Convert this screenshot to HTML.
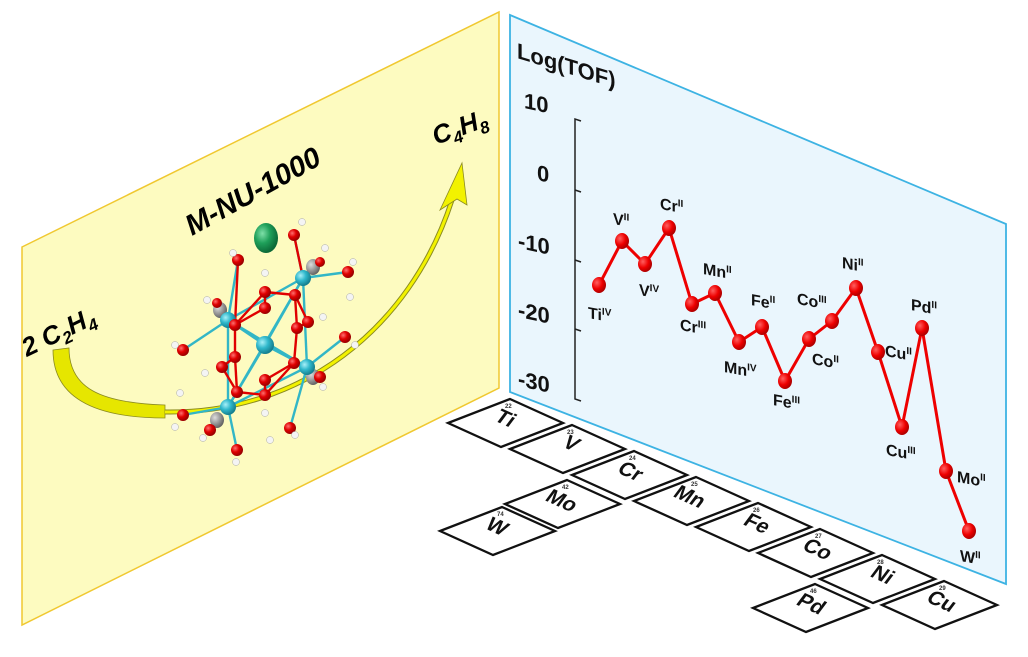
<!DOCTYPE html>
<html><head><meta charset="utf-8"><style>
html,body{margin:0;padding:0;background:#fff;}
svg{display:block;}
text{font-family:"Liberation Sans",sans-serif;font-weight:bold;}
</style></head><body>
<svg width="1028" height="657" viewBox="0 0 1028 657" xmlns="http://www.w3.org/2000/svg">
<defs>
<radialGradient id="rO" cx="35%" cy="35%" r="65%"><stop offset="0" stop-color="#ff7070"/><stop offset="0.5" stop-color="#e00000"/><stop offset="1" stop-color="#900"/></radialGradient>
<radialGradient id="cZ" cx="35%" cy="35%" r="65%"><stop offset="0" stop-color="#a8f0f8"/><stop offset="0.5" stop-color="#30b8cc"/><stop offset="1" stop-color="#16808f"/></radialGradient>
<radialGradient id="gC" cx="35%" cy="35%" r="65%"><stop offset="0" stop-color="#ddd"/><stop offset="1" stop-color="#666"/></radialGradient>
<radialGradient id="gr" cx="35%" cy="35%" r="65%"><stop offset="0" stop-color="#7ee0a8"/><stop offset="0.5" stop-color="#1fa05a"/><stop offset="1" stop-color="#0c6a38"/></radialGradient>
<radialGradient id="rd" cx="35%" cy="35%" r="65%"><stop offset="0" stop-color="#ff6060"/><stop offset="0.6" stop-color="#ee0000"/><stop offset="1" stop-color="#b00000"/></radialGradient>
</defs>

<polygon points="22,247 499,12 499,388 22,625" fill="#fdfbc0" stroke="#f0c830" stroke-width="1.5"/>
<polygon points="510,15 1006,224 1006,584 510,392" fill="#eaf6fd" stroke="#3db3e3" stroke-width="1.8"/>

<path d="M53,350 L69,348 C69,388 100,403 165,405 L165,418 C95,418 53,398 53,350 Z" fill="#e6e600" stroke="#8a8a20" stroke-width="0.8"/>
<path d="M165,412 C300,414 410,330 452,200" fill="none" stroke="#8a8a20" stroke-width="5"/>
<path d="M165,412 C300,414 410,330 452,200" fill="none" stroke="#f2f200" stroke-width="3"/>
<polygon points="462,163 467,205 457,199 440,210" fill="#f2f200" stroke="#8a8a20" stroke-width="0.8"/>

<g stroke-width="2.4">
<g stroke="#32b6c6">
<line x1="228" y1="320" x2="303" y2="278"/><line x1="228" y1="320" x2="265" y2="345"/><line x1="228" y1="320" x2="228" y2="407"/>
<line x1="303" y1="278" x2="265" y2="345"/><line x1="303" y1="278" x2="307" y2="367"/><line x1="265" y1="345" x2="307" y2="367"/>
<line x1="265" y1="345" x2="228" y2="407"/><line x1="307" y1="367" x2="228" y2="407"/><line x1="228" y1="320" x2="307" y2="367"/>
<line x1="303" y1="278" x2="228" y2="407"/><line x1="303" y1="278" x2="348" y2="272"/><line x1="228" y1="320" x2="183" y2="350"/>
<line x1="307" y1="367" x2="345" y2="337"/><line x1="228" y1="407" x2="183" y2="415"/><line x1="228" y1="407" x2="237" y2="450"/>
<line x1="307" y1="367" x2="290" y2="428"/><line x1="303" y1="278" x2="294" y2="235"/><line x1="228" y1="320" x2="238" y2="260"/>
</g>
<g stroke="#e00000">
<line x1="265" y1="292" x2="295" y2="295"/><line x1="265" y1="308" x2="235" y2="325"/><line x1="235" y1="357" x2="222" y2="367"/>
<line x1="297" y1="328" x2="308" y2="322"/><line x1="294" y1="363" x2="265" y2="380"/><line x1="265" y1="395" x2="237" y2="392"/>
<line x1="265" y1="292" x2="235" y2="325"/><line x1="295" y1="295" x2="308" y2="322"/><line x1="235" y1="357" x2="237" y2="392"/>
<line x1="294" y1="363" x2="265" y2="395"/><line x1="238" y1="260" x2="235" y2="325"/><line x1="294" y1="235" x2="303" y2="278"/>
<line x1="222" y1="367" x2="237" y2="392"/><line x1="297" y1="328" x2="294" y2="363"/><line x1="265" y1="292" x2="265" y2="308"/>
<line x1="265" y1="380" x2="265" y2="395"/><line x1="235" y1="325" x2="235" y2="357"/><line x1="297" y1="328" x2="295" y2="295"/>
</g>
</g>
<ellipse cx="266" cy="238" rx="12" ry="15" fill="url(#gr)"/>
<g fill="url(#gC)">
<ellipse cx="220" cy="310" rx="7" ry="8"/><ellipse cx="313" cy="267" rx="7" ry="8"/><ellipse cx="313" cy="377" rx="7" ry="8"/><ellipse cx="217" cy="420" rx="7" ry="8"/>
</g>
<g fill="url(#cZ)">
<circle cx="228" cy="320" r="8"/><circle cx="303" cy="278" r="8"/><circle cx="265" cy="345" r="9"/><circle cx="307" cy="367" r="8"/><circle cx="228" cy="407" r="8"/>
</g>
<g fill="url(#rO)">
<circle cx="238" cy="260" r="6"/><circle cx="294" cy="235" r="6"/><circle cx="348" cy="272" r="6"/><circle cx="265" cy="292" r="6"/><circle cx="265" cy="308" r="6"/>
<circle cx="295" cy="295" r="6"/><circle cx="235" cy="325" r="6"/><circle cx="183" cy="350" r="6"/><circle cx="235" cy="357" r="6"/><circle cx="222" cy="367" r="6"/>
<circle cx="297" cy="328" r="6"/><circle cx="308" cy="322" r="6"/><circle cx="294" cy="363" r="6"/><circle cx="345" cy="337" r="6"/><circle cx="265" cy="380" r="6"/>
<circle cx="265" cy="395" r="6"/><circle cx="237" cy="392" r="6"/><circle cx="183" cy="415" r="6"/><circle cx="237" cy="450" r="6"/><circle cx="290" cy="428" r="6"/>
<circle cx="210" cy="430" r="6"/><circle cx="320" cy="377" r="6"/><circle cx="217" cy="303" r="5"/><circle cx="320" cy="262" r="5"/>
</g>
<g fill="#f4f4f4" stroke="#aaa" stroke-width="0.5">
<circle cx="233" cy="253" r="3.5"/><circle cx="302" cy="222" r="3.5"/><circle cx="265" cy="273" r="3.5"/><circle cx="325" cy="248" r="3.5"/><circle cx="353" cy="262" r="3.5"/>
<circle cx="350" cy="297" r="3.5"/><circle cx="323" cy="317" r="3.5"/><circle cx="175" cy="345" r="3.5"/><circle cx="205" cy="373" r="3.5"/><circle cx="355" cy="345" r="3.5"/>
<circle cx="180" cy="393" r="3.5"/><circle cx="175" cy="427" r="3.5"/><circle cx="265" cy="413" r="3.5"/><circle cx="203" cy="438" r="3.5"/><circle cx="270" cy="440" r="3.5"/>
<circle cx="295" cy="435" r="3.5"/><circle cx="323" cy="387" r="3.5"/><circle cx="207" cy="300" r="3.5"/><circle cx="236" cy="462" r="3.5"/>
</g>

<text transform="translate(192,236) rotate(-29)" font-size="29" font-style="italic" fill="#000">M-NU-1000</text>
<text transform="translate(27,357) rotate(-26)" font-size="26" font-style="italic" fill="#000">2 C<tspan font-size="17" dy="6">2</tspan><tspan dy="-6">H</tspan><tspan font-size="17" dy="6">4</tspan></text>
<text transform="translate(436,145) rotate(-20)" font-size="26" font-style="italic" fill="#000">C<tspan font-size="17" dy="6">4</tspan><tspan dy="-6">H</tspan><tspan font-size="17" dy="6">8</tspan></text>

<g stroke="#222" stroke-width="1.5" fill="none">
<path d="M581,121 L575,119 L575,399 L581,401"/>
<line x1="575" y1="190" x2="581" y2="192"/><line x1="575" y1="260" x2="581" y2="262"/><line x1="575" y1="329" x2="581" y2="331"/>
</g>
<g font-size="22" fill="#111">
<text transform="translate(517,58) skewY(17)">Log(TOF)</text>
<text transform="translate(524,108) skewY(12)">10</text>
<text transform="translate(537,180) skewY(12)">0</text>
<text transform="translate(518,248) skewY(12)">-10</text>
<text transform="translate(518,317) skewY(12)">-20</text>
<text transform="translate(518,386) skewY(12)">-30</text>
</g>

<polyline fill="none" stroke="#ee0000" stroke-width="3" stroke-linejoin="round" points="599,285 622,241 645,264 669,228 692,304 715,293 739,342 762,327 785,381 809,339 832,321 856,288 878,352 902,427 922,328 946,471 969,531"/>
<g fill="url(#rd)">
<ellipse cx="599" cy="285" rx="7" ry="8"/><ellipse cx="622" cy="241" rx="7" ry="8"/><ellipse cx="645" cy="264" rx="7" ry="8"/><ellipse cx="669" cy="228" rx="7" ry="8"/>
<ellipse cx="692" cy="304" rx="7" ry="8"/><ellipse cx="715" cy="293" rx="7" ry="8"/><ellipse cx="739" cy="342" rx="7" ry="8"/><ellipse cx="762" cy="327" rx="7" ry="8"/>
<ellipse cx="785" cy="381" rx="7" ry="8"/><ellipse cx="809" cy="339" rx="7" ry="8"/><ellipse cx="832" cy="321" rx="7" ry="8"/><ellipse cx="856" cy="288" rx="7" ry="8"/>
<ellipse cx="878" cy="352" rx="7" ry="8"/><ellipse cx="902" cy="427" rx="7" ry="8"/><ellipse cx="922" cy="328" rx="7" ry="8"/><ellipse cx="946" cy="471" rx="7" ry="8"/>
<ellipse cx="969" cy="531" rx="7" ry="8"/>
</g>
<g font-size="16" fill="#111">
<text transform="translate(588,318) skewY(10)">Ti<tspan font-size="10" dy="-6">IV</tspan></text>
<text transform="translate(613,224) skewY(10)">V<tspan font-size="10" dy="-6">II</tspan></text>
<text transform="translate(639,295) skewY(10)">V<tspan font-size="10" dy="-6">IV</tspan></text>
<text transform="translate(660,209) skewY(10)">Cr<tspan font-size="10" dy="-6">II</tspan></text>
<text transform="translate(680,330) skewY(10)">Cr<tspan font-size="10" dy="-6">III</tspan></text>
<text transform="translate(703,274) skewY(10)">Mn<tspan font-size="10" dy="-6">II</tspan></text>
<text transform="translate(724,372) skewY(10)">Mn<tspan font-size="10" dy="-6">IV</tspan></text>
<text transform="translate(751,305) skewY(10)">Fe<tspan font-size="10" dy="-6">II</tspan></text>
<text transform="translate(773,405) skewY(10)">Fe<tspan font-size="10" dy="-6">III</tspan></text>
<text transform="translate(797,304) skewY(10)">Co<tspan font-size="10" dy="-6">III</tspan></text>
<text transform="translate(812,364) skewY(10)">Co<tspan font-size="10" dy="-6">II</tspan></text>
<text transform="translate(842,268) skewY(10)">Ni<tspan font-size="10" dy="-6">II</tspan></text>
<text transform="translate(885,356) skewY(10)">Cu<tspan font-size="10" dy="-6">II</tspan></text>
<text transform="translate(886,455) skewY(10)">Cu<tspan font-size="10" dy="-6">III</tspan></text>
<text transform="translate(911,310) skewY(10)">Pd<tspan font-size="10" dy="-6">II</tspan></text>
<text transform="translate(957,482) skewY(10)">Mo<tspan font-size="10" dy="-6">II</tspan></text>
<text transform="translate(960,561) skewY(10)">W<tspan font-size="10" dy="-6">II</tspan></text>
</g>

<g stroke="#111" stroke-width="2.3" fill="#fff">
<polygon points="510,399 563,423 501,447 448,423"/>
<polygon points="572,425 625,449 563,473 510,449"/>
<polygon points="634,451 687,475 625,499 572,475"/>
<polygon points="696,477 749,501 687,525 634,501"/>
<polygon points="758,503 811,527 749,551 696,527"/>
<polygon points="820,529 873,553 811,577 758,553"/>
<polygon points="882,555 935,579 873,603 820,579"/>
<polygon points="944,581 997,605 935,629 882,605"/>
<polygon points="567,480 620,504 558,528 505,504"/>
<polygon points="502,507 555,531 493,555 440,531"/>
<polygon points="815,584 868,608 806,632 753,608"/>
</g>
<g font-size="21" fill="#111">
<text transform="matrix(0.91,0.41,-0.6,0.8,493,420)">Ti</text>
<text transform="matrix(0.91,0.41,-0.6,0.8,561,446)">V</text>
<text transform="matrix(0.91,0.41,-0.6,0.8,616,472)">Cr</text>
<text transform="matrix(0.91,0.41,-0.6,0.8,672,496)">Mn</text>
<text transform="matrix(0.91,0.41,-0.6,0.8,742,524)">Fe</text>
<text transform="matrix(0.91,0.41,-0.6,0.8,801,549)">Co</text>
<text transform="matrix(0.91,0.41,-0.6,0.8,869,576)">Ni</text>
<text transform="matrix(0.91,0.41,-0.6,0.8,925,601)">Cu</text>
<text transform="matrix(0.91,0.41,-0.6,0.8,544,500)">Mo</text>
<text transform="matrix(0.91,0.41,-0.6,0.8,484,528)">W</text>
<text transform="matrix(0.91,0.41,-0.6,0.8,795,604)">Pd</text>
</g>
<g font-size="6" fill="#333">
<text x="505" y="408">22</text><text x="567" y="434">23</text><text x="629" y="460">24</text><text x="691" y="486">25</text>
<text x="753" y="512">26</text><text x="815" y="538">27</text><text x="877" y="564">28</text><text x="939" y="590">29</text>
<text x="562" y="489">42</text><text x="497" y="516">74</text><text x="810" y="593">46</text>
</g>
</svg>
</body></html>
